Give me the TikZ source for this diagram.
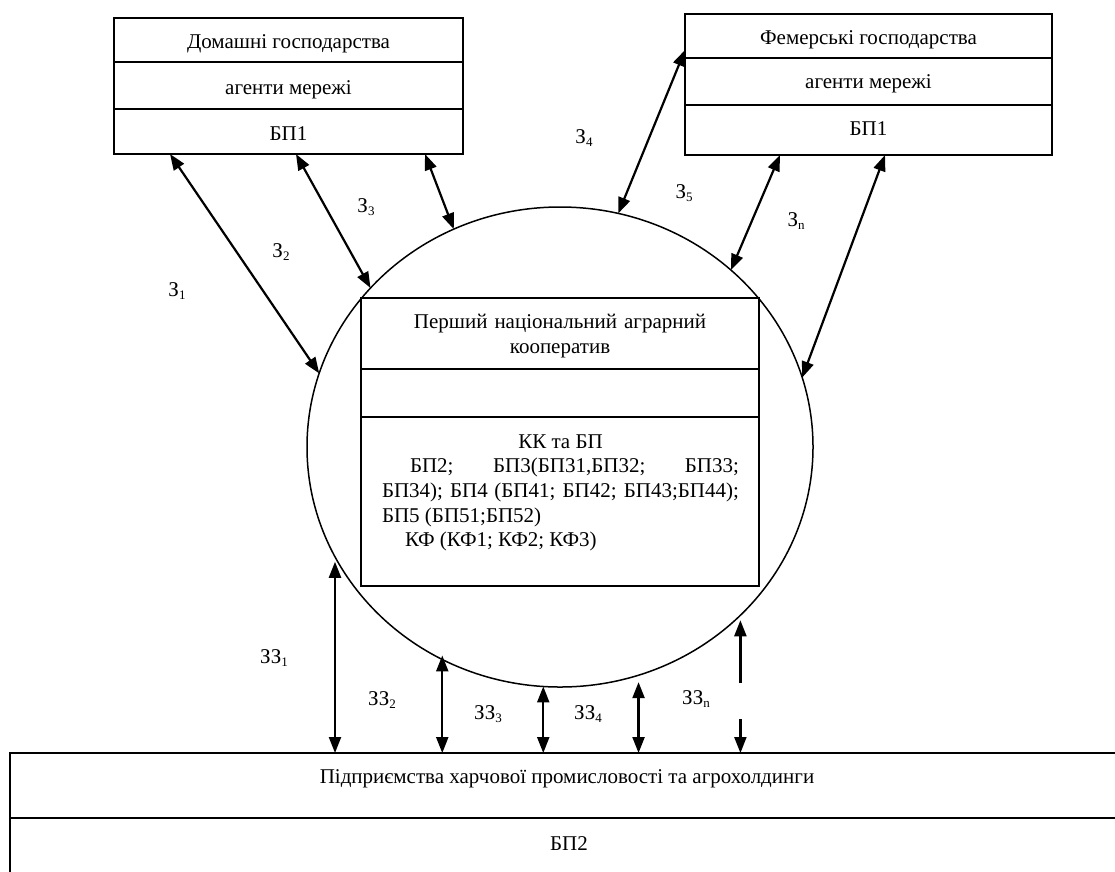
\documentclass[tikz,border=0pt]{standalone}
\usepackage{fontspec}
\setmainfont{Liberation Serif}
\usetikzlibrary{shapes.geometric,arrows.meta,calc}
% lowered small index after a letter
\newcommand\lidx[1]{\raisebox{-2.5pt}{\fontsize{13pt}{13pt}\selectfont #1}}
\begin{document}
\begin{tikzpicture}[x=1pt,y=-1pt,
  every node/.style={font=\fontsize{21pt}{25pt}\selectfont, inner sep=0pt, outer sep=0pt},
  cell/.style={draw, line width=1.8pt, align=center},
  >={Triangle[length=16pt,width=12pt]},
  link/.style={line width=2.2pt, <->},
  half/.style={line width=2.2pt, ->},
]
\useasboundingbox (0,0) rectangle (1115,871);

% households
\node[cell, minimum width=349pt, minimum height=44pt, text height=17pt, text depth=-3pt] (hh1) at (288.5,40) {Домашні господарства};
\node[cell, minimum width=349pt, minimum height=47pt, text height=17pt, text depth=-3pt] (hh2) at (288.5,85.5) {агенти мережі};
\node[cell, minimum width=349pt, minimum height=45pt, text height=17pt, text depth=-3pt] (hh3) at (288.5,131.5) {БП1};

% farms
\node[cell, minimum width=367pt, minimum height=44pt, text height=16pt, text depth=-2pt] (fh1) at (868.5,36) {Фемерські господарства};
\node[cell, minimum width=367pt, minimum height=47pt, text height=14pt, text depth=0pt] (fh2) at (868.5,81.5) {агенти мережі};
\node[cell, minimum width=367pt, minimum height=50pt, text height=12pt, text depth=2pt] (fh3) at (868.5,130) {БП1};

% cooperative
\node[ellipse, draw, line width=1.5pt, minimum width=506pt, minimum height=480pt] (coop) at (560,447) {};
\node[cell, minimum width=398pt, minimum height=71pt, text width=398pt, text height=14pt, text depth=25pt] (ct1) at (560,333.5) {Перший національний аграрний\\кооператив};
\node[cell, minimum width=398pt, minimum height=48pt] (ct2) at (560,393) {};
\node[cell, minimum width=398pt, minimum height=169pt] (ct3) at (560,501.5) {};
\node[anchor=base west, text width=357pt, align=justify, font=\fontsize{21pt}{24.7pt}\selectfont] (kkbp) at (382,448) {\makebox[357pt]{КК та БП}\par
\hspace*{28pt}БП2; БП3(БП31,БП32; БП33;\linebreak
БП34); БП4 (БП41; БП42; БП43;БП44);\linebreak
БП5 (БП51;БП52)\par
\hspace*{23pt}КФ (КФ1; КФ2; КФ3)};

% food industry
\node[cell, minimum width=1114pt, minimum height=65pt] (pe1) at (567,785.5) {};
\node[cell, minimum width=1114pt, minimum height=72pt] (pe2) at (567,854) {};
\node[anchor=base] (pet) at (567,783) {Підприємства харчової промисловості та агрохолдинги};
\node[anchor=base] (pebp) at (569,850) {БП2};

% links to the households and farms
\draw[link] ([xshift=56pt]hh3.south west) -- (coop.163);
\draw[link] ([xshift=182pt]hh3.south west) -- (coop.140.1);
\draw[link] ([xshift=311pt]hh3.south west) -- (coop.116.2);
\draw[link] ([yshift=-14pt]fh1.west) -- (coop.76.1);
\draw[link] ([xshift=95pt]fh3.south west) -- (coop.46);
\draw[link] ([xshift=200pt]fh3.south west) -- (coop.16.7);

% links to the food industry
\draw[link] ([yshift=-5pt]coop.206.9) -- (coop.206.9 |- pe1.north);
\draw[link] ([yshift=4pt]coop.241.95) -- (coop.241.95 |- pe1.north);
\draw[link] (coop.266.7) -- (coop.266.7 |- pe1.north);
\draw[link] ([yshift=-7pt]coop.289.86) -- (coop.289.86 |- pe1.north);
\coordinate (gapA) at ($(coop.317.2 |- pe1.north)+(0,-70)$);
\coordinate (gapB) at ($(coop.317.2 |- pe1.north)+(0,-34)$);
\draw[half] (gapA) -- ([yshift=-5pt]coop.317.2);
\draw[half] (gapB) -- (coop.317.2 |- pe1.north);

% link labels
\node (l1) at (177,291) {З\lidx{1}};
\node (l2) at (281,252) {З\lidx{2}};
\node (l3) at (366,207) {З\lidx{3}};
\node (l4) at (584,138) {З\lidx{4}};
\node (l5) at (684,193) {З\lidx{5}};
\node (ln) at (796,221) {З\lidx{n}};
\node (m1) at (274,658) {ЗЗ\lidx{1}};
\node (m2) at (382,700) {ЗЗ\lidx{2}};
\node (m3) at (488,714) {ЗЗ\lidx{3}};
\node (m4) at (588,714) {ЗЗ\lidx{4}};
\node (mn) at (696,699) {ЗЗ\lidx{n}};
\end{tikzpicture}
\end{document}
